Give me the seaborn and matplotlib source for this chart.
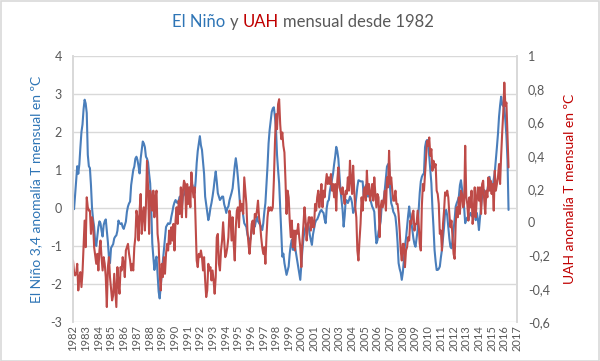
import numpy as np
import pandas as pd
import matplotlib
matplotlib.use("Agg")
import matplotlib.pyplot as plt
import seaborn as sns
from matplotlib.ticker import FixedLocator, FuncFormatter

# ---- data (monthly values, Jan 1982 onward) ----
nino_1980s = [
    0.13, -0.03, 0.35, 0.75, 1.1, 0.9, 1.15, 1.6, 2.0, 2.2, 2.6, 2.85,
    2.75, 2.5, 1.4, 1.1, 1.05, 0.6, 0.0, -0.3, -0.5, -0.9, -1.0, -0.75,
    -0.5, -0.35, -0.4, -0.6, -0.75, -0.45, -0.35, -0.3, -0.6, -0.9, -1.3, -1.45,
    -1.05, -1.0, -0.95, -0.8, -0.75, -0.72, -0.6, -0.33, -0.4, -0.42, -0.4, -0.5,
    -0.55, -0.45, -0.36, -0.1, 0.04, 0.12, 0.17, 0.6, 0.8, 1.0, 1.09, 1.3,
    1.35, 1.26, 1.1, 0.91, 1.3, 1.53, 1.75, 1.7, 1.6, 1.35, 1.3, 1.2,
    0.9, 0.65, 0.0, -0.93, -1.3, -1.63, -1.4, -1.28, -1.75, -2.2, -2.38, -2.05,
    -1.7, -1.4, -1.1, -0.8, -0.5, -0.45, -0.4, -0.42, -0.4, -0.23, -0.1, 0.05,
]
nino_1990s = [
    0.15, 0.21, 0.15, 0.13, 0.2, 0.3, 0.15, 0.04, 0.3, 0.35, 0.45, 0.56,
    0.35, 0.2, 0.35, 0.5, 0.65, 0.6, 0.45, 0.39, 0.7, 1.18, 1.5, 1.7,
    1.89, 1.65, 1.53, 1.2, 0.9, 0.3, 0.1, -0.1, -0.32, -0.2, 0.0, 0.13,
    0.3, 0.5, 0.75, 0.96, 0.7, 0.39, 0.3, 0.21, 0.25, 0.3, 0.3, 0.1,
    0.0, -0.13, 0.0, 0.04, 0.2, 0.3, 0.4, 0.52, 0.82, 1.1, 1.31, 1.1,
    0.8, 0.45, 0.1, -0.05, 0.04, -0.2, -0.4, -0.45, -0.5, -0.7, -0.8, -0.89,
    -0.8, -0.6, -0.45, -0.4, -0.49, -0.35, -0.23, -0.35, -0.4, -0.44, -0.5, -0.58,
    -0.4, -0.1, 0.13, 0.6, 1.1, 1.7, 2.05, 2.3, 2.53, 2.62, 2.65, 2.4,
    2.1, 1.4, 1.0, 0.65, 0.0, -0.67, -1.28, -1.2, -1.45, -1.6, -1.76, -1.65,
    -1.54, -1.2, -0.97, -0.84, -1.1, -1.1, -1.02, -1.2, -1.37, -1.54, -1.7, -1.89,
]
nino_2000s = [
    -1.5, -1.1, -0.8, -0.6, -0.5, -0.45, -0.4, -0.5, -0.71, -0.85, -0.97, -0.7,
    -0.55, -0.4, -0.32, -0.3, -0.23, -0.15, -0.08, -0.05, -0.1, -0.13, -0.3, -0.4,
    0.0, 0.17, 0.21, 0.45, 0.6, 0.75, 0.9, 1.15, 1.35, 1.61, 1.5, 1.3,
    0.9, 0.47, 0.2, -0.05, -0.49, -0.2, 0.21, 0.2, 0.13, 0.2, 0.3, 0.25,
    0.13, -0.13, -0.05, 0.04, 0.3, 0.56, 0.73, 0.72, 0.7, 0.7, 0.7, 0.3,
    0.45, 0.6, 0.35, 0.3, 0.43, 0.25, 0.15, 0.04, -0.02, -0.1, -0.58, -0.93,
    -0.85, -0.62, -0.5, -0.35, 0.05, 0.15, 0.25, 0.5, 0.8, 1.09, 1.15, 1.18,
    0.5, 0.13, 0.04, -0.1, -0.15, -0.23, -0.5, -0.9, -1.45, -1.6, -1.7, -1.89,
    -1.7, -1.37, -1.0, -0.8, -0.49, -0.2, 0.04, -0.23, -0.35, -0.58, -0.8, -0.95,
    -1.02, -0.8, -0.58, -0.05, 0.4, 0.7, 0.82, 0.88, 0.91, 1.6, 1.75, 1.79,
]
nino_2010s = [
    1.7, 1.35, 1.0, 0.65, 0.0, -0.5, -1.1, -1.4, -1.63, -1.63, -1.6, -1.54,
    -1.3, -1.1, -0.8, -0.5, -0.1, -0.05, -0.2, -0.5, -0.8, -1.02, -1.06, -0.85,
    -0.58, -0.3, 0.04, 0.13, 0.2, 0.3, 0.6, 0.73, 0.5, 0.3, 0.0, -0.4,
    -0.3, -0.25, -0.32, -0.2, -0.13, -0.2, -0.23, -0.05, -0.15, -0.32, -0.13, -0.3,
    -0.58, -0.25, 0.04, 0.3, 0.42, 0.47, 0.38, 0.3, 0.47, 0.65, 0.82, 0.65,
    0.6, 0.56, 0.75, 0.95, 1.26, 1.6, 1.95, 2.4, 2.7, 2.93, 2.72, 2.68,
    2.66, 2.3, 1.9, 1.26, -0.05,
]

uah_1980s = [
    -0.23, -0.30, -0.32, -0.31, -0.25, -0.41, -0.33, -0.30, -0.39, -0.30, -0.15, 0.01,
    -0.15, 0.15, 0.09, 0.07, 0.07, -0.07, 0.03, -0.01, -0.15, -0.20, -0.25, -0.19,
    -0.29, -0.17, -0.11, -0.21, -0.29, -0.21, -0.25, -0.33, -0.51, -0.27, -0.21, -0.33,
    -0.40, -0.47, -0.44, -0.31, -0.41, -0.51, -0.27, -0.37, -0.43, -0.27, -0.29, -0.21,
    -0.25, -0.33, -0.17, -0.15, -0.13, -0.19, -0.23, -0.29, -0.25, -0.29, -0.15, -0.09,
    0.07, 0.03, -0.11, 0.07, 0.17, -0.07, 0.05, 0.09, -0.05, 0.10, 0.37, 0.21,
    -0.07, 0.19, 0.15, 0.07, 0.19, 0.03, 0.15, 0.19, -0.07, -0.13, -0.31, -0.41,
    -0.25, -0.33, -0.21, -0.31, -0.19, -0.13, -0.17, -0.05, -0.13, -0.03, -0.11, -0.01,
]
uah_1990s = [
    -0.17, 0.01, 0.09, -0.01, 0.13, 0.05, 0.21, 0.03, 0.19, 0.25, 0.23, 0.03,
    0.23, 0.11, 0.21, 0.09, 0.30, 0.21, 0.15, 0.21, -0.01, -0.23, -0.27, -0.19,
    -0.21, -0.17, -0.21, -0.29, -0.21, -0.35, -0.45, -0.41, -0.25, -0.29, -0.27, -0.35,
    -0.29, -0.35, -0.43, -0.33, -0.09, -0.07, -0.25, -0.29, -0.17, -0.11, 0.0, -0.10,
    -0.21, -0.19, -0.15, -0.09, 0.07, 0.03, -0.11, 0.03, -0.13, -0.23, -0.03, 0.07,
    0.09, -0.03, 0.13, 0.07, 0.11, 0.05, 0.27, 0.19, 0.11, -0.05, -0.13, -0.19,
    -0.11, -0.01, 0.01, -0.07, 0.05, 0.03, 0.07, 0.13, 0.03, -0.01, -0.09, -0.15,
    -0.19, -0.15, -0.25, -0.09, 0.03, 0.09, 0.07, 0.09, 0.07, 0.09, 0.25, 0.47,
    0.65, 0.56, 0.71, 0.74, 0.59, 0.50, 0.54, 0.46, 0.42, 0.25, 0.05, 0.19,
    0.15, 0.01, -0.09, 0.01, -0.15, -0.05, -0.17, -0.05, -0.07, -0.01, -0.09, -0.15,
]
uah_2000s = [
    -0.27, -0.11, -0.01, 0.09, 0.01, -0.11, -0.03, 0.03, 0.03, -0.05, 0.03, -0.03,
    -0.03, 0.11, 0.07, 0.15, 0.19, 0.09, 0.15, 0.23, 0.09, 0.19, 0.15, 0.23,
    0.29, 0.23, 0.27, 0.23, 0.29, 0.19, 0.23, 0.15, 0.23, 0.07, 0.25, 0.33,
    0.21, 0.19, 0.17, 0.21, 0.15, 0.11, 0.19, 0.17, 0.27, 0.19, 0.37, 0.25,
    0.17, 0.34, 0.19, 0.09, 0.03, -0.17, -0.23, -0.11, -0.01, 0.15, 0.07, 0.19,
    0.21, 0.13, 0.31, 0.17, 0.23, 0.13, 0.17, 0.23, 0.13, 0.27, 0.17, 0.09,
    0.17, 0.15, -0.09, 0.09, 0.13, 0.09, 0.13, 0.19, 0.07, 0.27, 0.21, 0.43,
    0.23, 0.27, 0.19, 0.13, 0.13, 0.19, 0.11, 0.11, 0.05, -0.05, -0.17, -0.23,
    -0.13, -0.13, -0.27, -0.17, -0.15, -0.09, -0.11, 0.01, -0.01, 0.05, 0.07, -0.05,
    -0.01, -0.01, 0.07, -0.01, -0.13, -0.17, 0.10, 0.23, 0.19, 0.29, 0.40, 0.49,
]
uah_2010s = [
    0.46, 0.51, 0.40, 0.44, 0.31, 0.37, 0.33, 0.35, 0.19, 0.17, 0.11, -0.07,
    -0.05, -0.17, -0.01, 0.07, 0.18, 0.16, 0.19, 0.15, 0.05, -0.03, 0.01, -0.09,
    -0.19, -0.22, -0.01, 0.09, 0.03, 0.15, 0.05, 0.19, 0.17, 0.09, 0.11, 0.46,
    0.15, 0.11, 0.01, 0.15, 0.09, 0.19, -0.01, 0.05, 0.21, 0.03, 0.15, 0.21,
    0.13, 0.21, 0.05, 0.23, 0.25, 0.13, 0.05, 0.19, 0.15, 0.27, 0.19, 0.25,
    0.17, 0.23, 0.07, 0.31, 0.19, 0.23, 0.27, 0.35, 0.23, 0.40, 0.54, 0.66,
    0.84, 0.70, 0.72, 0.52, 0.33,
]

year_labels = [str(y) for y in range(1982, 2018)]
left_ticks = [-3, -2, -1, 0, 1, 2, 3, 4]
right_ticks = [-0.6, -0.4, -0.2, 0, 0.2, 0.4, 0.6, 0.8, 1]

nino = nino_1980s + nino_1990s + nino_2000s + nino_2010s
uah = uah_1980s + uah_1990s + uah_2000s + uah_2010s
n = min(len(nino), len(uah))
df = pd.DataFrame({
    "t": 1982 + np.arange(n) / 12.0,
    "nino": nino[:n],
    "uah": uah[:n],
})

# ---- styling ----
sns.set_theme(style="white")
FONT = ["Lato", "DejaVu Sans"]
plt.rcParams["font.family"] = FONT
GRAY = "#595959"
BLUE_LINE = "#4A7EBB"
RED_LINE = "#BE4B48"
BLUE_TXT = "#2E75B6"
RED_TXT = "#C00000"
GRID = "#D9D9D9"

fig = plt.figure(figsize=(6.0, 3.61), dpi=100)
ax = fig.add_axes([73 / 600, 1 - 322 / 361, (517 - 73) / 600, (322 - 56) / 361])
ax2 = ax.twinx()

sns.lineplot(data=df, x="t", y="nino", ax=ax, color=BLUE_LINE, lw=1.5)
sns.lineplot(data=df, x="t", y="uah", ax=ax2, color=RED_LINE, lw=1.5)

ax.set_xlim(1982, 2017)
ax.set_ylim(-3, 4)
ax2.set_ylim(-0.6, 1.0)

ax.yaxis.set_major_locator(FixedLocator(left_ticks))
ax.set_yticklabels([str(v) for v in left_ticks])
ax2.yaxis.set_major_locator(FixedLocator(right_ticks))
ax2.yaxis.set_major_formatter(FuncFormatter(
    lambda v, p: ("%g" % round(v, 1)).replace(".", ",")))

ax.set_xticks(range(1982, 2018))
ax.set_xticklabels(year_labels, rotation=90)

ax.grid(axis="y", color=GRID, lw=1)
ax.set_axisbelow(True)
for a in (ax, ax2):
    for s in ("top", "bottom"):
        a.spines[s].set_visible(False)
    a.spines["left"].set_color(GRID)
    a.spines["right"].set_color(GRID)
    a.tick_params(length=0, colors=GRAY, labelsize=9)
ax.tick_params(axis="x", labelsize=8, pad=2)
ax.tick_params(axis="y", pad=8)
ax2.tick_params(axis="y", pad=8)

ax.set_xlabel("")
ax.set_ylabel("El Niño 3,4 anomalía T mensual en ºC", color=BLUE_TXT, fontsize=10, labelpad=6)
ax2.set_ylabel("UAH anomalía T mensual en ºC", color=RED_TXT, fontsize=10,
               rotation=90, labelpad=10)

# multi-coloured title
parts = [("El Niño", BLUE_TXT), ("y", GRAY), ("UAH", RED_TXT), ("mensual desde 1982", GRAY)]
renderer = fig.canvas.get_renderer()
tsize = 12
probe1 = fig.text(0, 0, "x x", fontsize=tsize)
probe2 = fig.text(0, 0, "xx", fontsize=tsize)
space_w = probe1.get_window_extent(renderer).width - probe2.get_window_extent(renderer).width
probe1.remove(); probe2.remove()
texts, widths = [], []
for s, c in parts:
    t = fig.text(0, 1 - 22 / 361, s, color=c, fontsize=tsize, ha="left", va="center")
    widths.append(t.get_window_extent(renderer).width)
    texts.append(t)
total = sum(widths) + space_w * (len(parts) - 1)
x0 = 303 - total / 2
for t, w in zip(texts, widths):
    t.set_x(x0 / 600)
    x0 += w + space_w

# outer border
fig.patches.append(plt.Rectangle((0.001, 0.001), 0.997, 0.996, transform=fig.transFigure,
                                 fill=False, edgecolor=GRID, lw=1.2))

fig.savefig("out.png", dpi=100)
